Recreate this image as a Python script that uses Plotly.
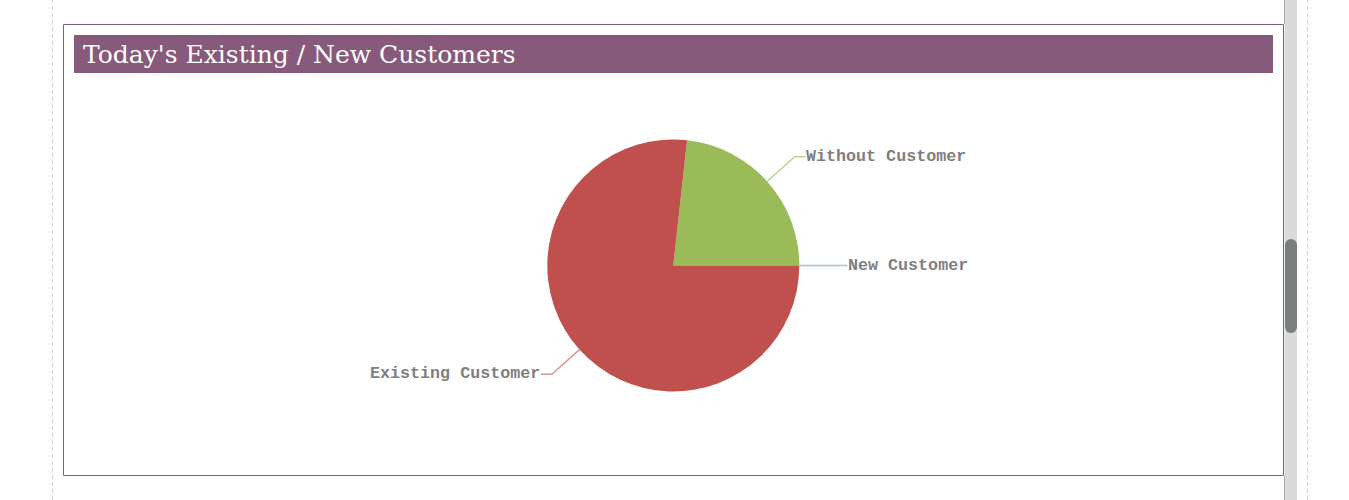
import math
import plotly.graph_objects as go

# ---- data ----
labels = ["New Customer", "Without Customer", "Existing Customer"]
values = [0, 10, 33]
slice_colors = ["#4F81BD", "#9BBB59", "#C0504D"]
leader_colors = ["#a8c0dd", "#bcd49b", "#dc9595"]
title_text = "Today's Existing / New Customers"

# ---- layout constants (pixels) ----
W, H = 1349, 500
CX, CY, R = 673.3, 265.5, 126.0
LEAD_OUT, LEAD_H = 37.0, 11.0


def px(x):
    return x / W


def py(y):
    return 1 - y / H


fig = go.Figure(
    go.Pie(
        labels=labels,
        values=values,
        sort=False,
        direction="counterclockwise",
        rotation=90,
        marker=dict(colors=slice_colors, line=dict(width=0)),
        textinfo="none",
        hoverinfo="label+value+percent",
        showlegend=False,
        domain=dict(x=[px(CX - R), px(CX + R)], y=[py(CY + R), py(CY - R)]),
    )
)

shapes = []
annotations = []

# page decorations
for xv in (52.5, 1307.5):
    shapes.append(dict(type="line", xref="paper", yref="paper", x0=px(xv), x1=px(xv), y0=0, y1=1,
                       line=dict(color="#d4d4d4", width=1, dash="4px,3px"), layer="below"))
shapes.append(dict(type="rect", xref="paper", yref="paper", x0=px(63.5), x1=px(1283.5), y0=py(475.5), y1=py(24.5),
                   line=dict(color="#875A7B", width=1), fillcolor="white", layer="below"))
shapes.append(dict(type="rect", xref="paper", yref="paper", x0=px(74), x1=px(1273), y0=py(73), y1=py(35),
                   line=dict(width=0), fillcolor="#875A7B", layer="below"))
# scrollbar
shapes.append(dict(type="rect", xref="paper", yref="paper", x0=px(1284.5), x1=px(1297), y0=0, y1=1,
                   line=dict(width=0), fillcolor="#dadada", layer="below"))
shapes.append(dict(type="line", xref="paper", yref="paper", x0=px(1284.5), x1=px(1284.5), y0=py(0), y1=py(24),
                   line=dict(color="#a8a8a8", width=1)))
shapes.append(dict(type="line", xref="paper", yref="paper", x0=px(1284.5), x1=px(1284.5), y0=py(476), y1=py(500),
                   line=dict(color="#a8a8a8", width=1)))
shapes.append(dict(type="rect", xref="paper", yref="paper", x0=px(1285), x1=px(1297), y0=py(327), y1=py(245),
                   line=dict(width=0), fillcolor="#7b7f80"))
for yc in (245, 327):
    shapes.append(dict(type="circle", xref="paper", yref="paper", x0=px(1285), x1=px(1297), y0=py(yc + 6), y1=py(yc - 6),
                       line=dict(width=0), fillcolor="#7b7f80"))

annotations.append(dict(text=title_text, xref="paper", yref="paper", x=px(81), y=py(54.5),
                        xanchor="left", yanchor="middle", showarrow=False,
                        font=dict(family="DejaVu Serif", size=25, color="white")))

# leader lines and labels computed from the values
total = float(sum(values))
cum = 0.0
for lab, v, lc in zip(labels, values, leader_colors):
    mid = math.radians((cum + v / 2.0) / total * 360.0)
    cum += v
    c, s = math.cos(mid), math.sin(mid)
    x0, y0 = CX + R * c, CY - R * s
    x1, y1 = CX + (R + LEAD_OUT) * c, CY - (R + LEAD_OUT) * s
    side = 1 if c >= -1e-9 else -1
    x2 = x1 + side * LEAD_H
    shapes.append(dict(type="path", xref="paper", yref="paper",
                       path=f"M {px(x0)},{py(y0)} L {px(x1)},{py(y1)} L {px(x2)},{py(y1)}",
                       line=dict(color=lc, width=1.5)))
    annotations.append(dict(text=f"<b>{lab}</b>", xref="paper", yref="paper",
                            x=px(x2 - side * 1.5), y=py(y1 - 0.5),
                            xanchor="left" if side > 0 else "right", yanchor="middle", showarrow=False,
                            font=dict(family="Liberation Mono", size=16.7, color="#7f7f7f")))

fig.update_layout(
    width=W,
    height=H,
    margin=dict(l=0, r=0, t=0, b=0),
    paper_bgcolor="white",
    plot_bgcolor="white",
    shapes=shapes,
    annotations=annotations,
)

fig.write_html("out.html")
